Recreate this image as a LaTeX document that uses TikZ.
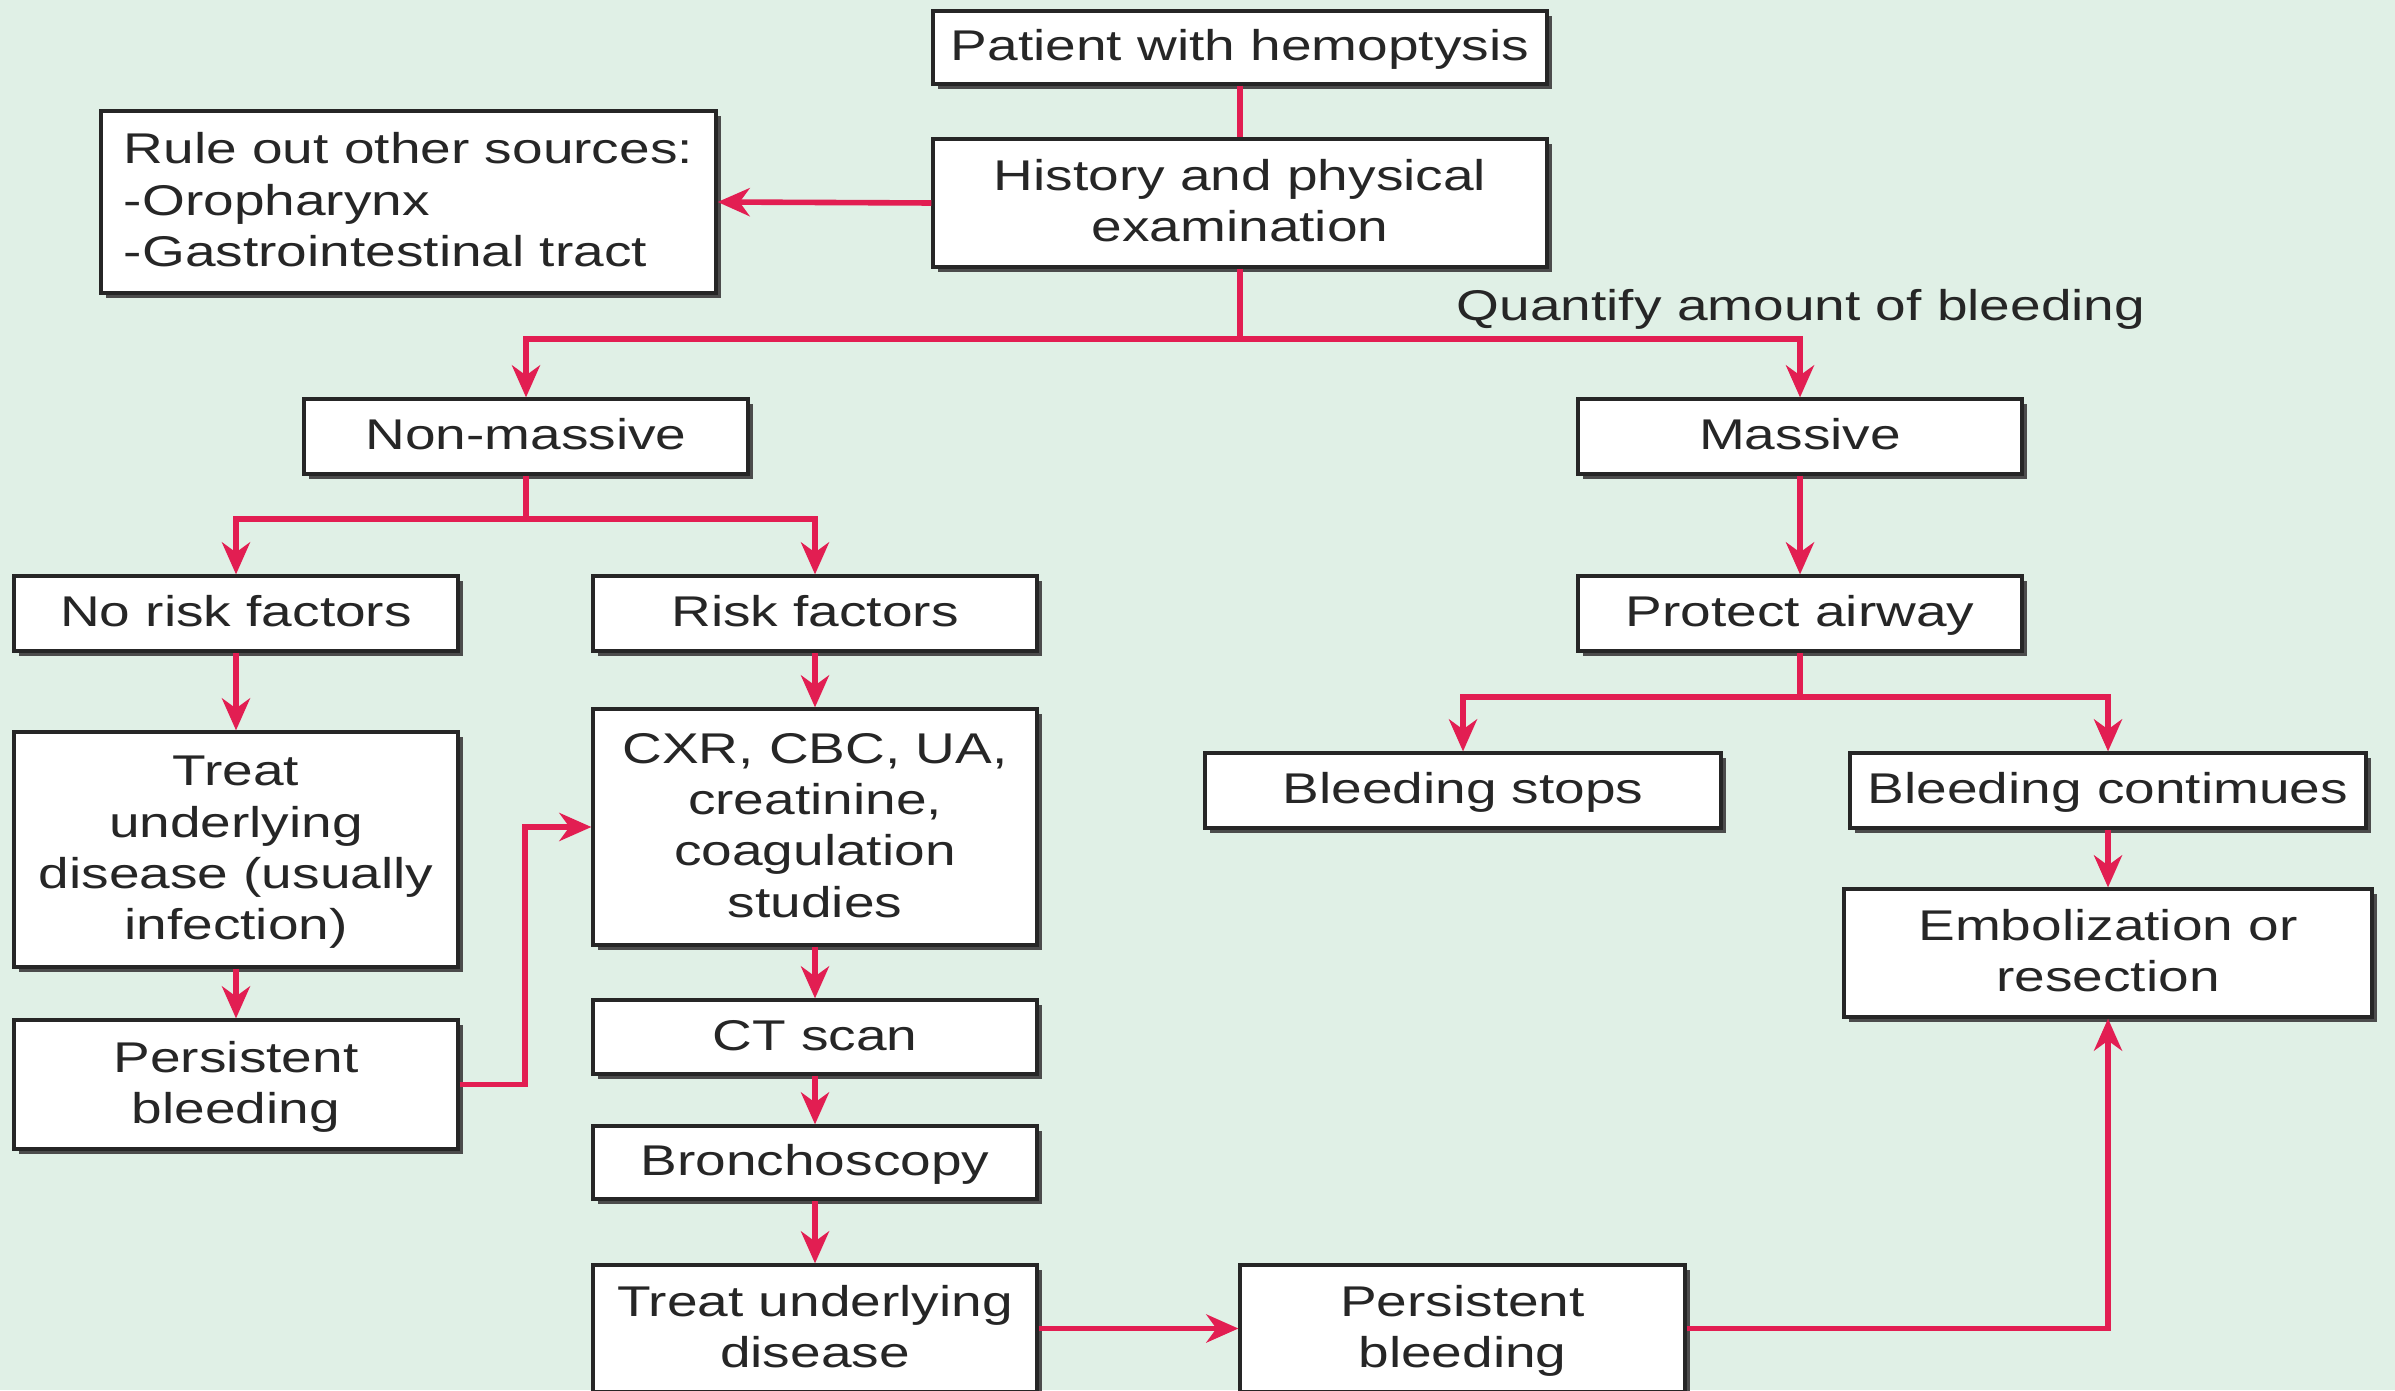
\documentclass[tikz,border=0pt]{standalone}
\usepackage{fontspec}
\usepackage{graphicx}
\setmainfont{Liberation Sans}
\usetikzlibrary{arrows.meta,shadows}
\definecolor{bgcol}{RGB}{224,240,230}
\definecolor{linkcol}{RGB}{226,30,82}
\newcommand{\bt}[2][c]{\raisebox{-0.75pt}[\height][\depth]{\scalebox{1.28}[1]{\begin{tabular}{@{}#1@{}}#2\end{tabular}}}}
\begin{document}
\begin{tikzpicture}[x=0.25pt,y=-0.25pt,
  box/.style={draw=black!85, line width=0.8pt, fill=white, inner sep=0pt, align=center,
    text=black!85, font=\fontsize{10.75}{12.85}\selectfont,
    drop shadow={shadow xshift=1.3pt, shadow yshift=-1.3pt, fill=black!70, opacity=1}},
  link/.style={draw=linkcol, line width=1.4pt},
  arr/.style={link, -{Stealth[length=8pt,width=7pt,inset=2.5pt]}},
  lbl/.style={inner sep=0pt, text=black!85, font=\fontsize{10.75}{12.85}\selectfont}]
\useasboundingbox (0,0) rectangle (2395,1390);
\fill[bgcol] (0,0) rectangle (2395,1390);
\begin{scope}
\clip (0,0) rectangle (2395,1390);
% nodes
\node[box, minimum width=153.5pt, minimum height=18.25pt] (pat) at (1240,47.5) {\bt{Patient with hemoptysis}};
\node[box, minimum width=153.5pt, minimum height=32pt] (hist) at (1240,203) {\bt{History and physical\\examination}};
\node[box, minimum width=153.75pt, minimum height=45.5pt] (rule) at (408.5,202) {\bt[l]{Rule out other sources:\\-Oropharynx\\-Gastrointestinal tract}};
\node[lbl] (q) at (1801,307) {\bt{Quantify amount of bleeding}};
\node[box, minimum width=111pt, minimum height=18.75pt] (nm) at (526,436.5) {\bt{Non-massive}};
\node[box, minimum width=111pt, minimum height=18.75pt] (mas) at (1800,436.5) {\bt{Massive}};
\node[box, minimum width=111pt, minimum height=18.75pt] (nrf) at (236,613.5) {\bt{No risk factors}};
\node[box, minimum width=111pt, minimum height=18.75pt] (rf) at (815,613.5) {\bt{Risk factors}};
\node[box, minimum width=111pt, minimum height=18.75pt] (pa) at (1800,613.5) {\bt{Protect airway}};
\node[box, minimum width=129pt, minimum height=18.75pt] (bs) at (1463,790.5) {\bt{Bleeding stops}};
\node[box, minimum width=129pt, minimum height=18.75pt] (bc) at (2108,790.5) {\bt{Bleeding contimues}};
\node[box, minimum width=132pt, minimum height=32pt] (emb) at (2108,953) {\bt{Embolization or\\resection}};
\node[box, minimum width=111pt, minimum height=58.75pt] (tud) at (236,849.5) {\bt{Treat\\underlying\\disease (usually\\infection)}};
\node[box, minimum width=111pt, minimum height=32.25pt] (pb1) at (236,1084.5) {\bt{Persistent\\bleeding}};
\node[box, minimum width=111pt, minimum height=59pt] (cxr) at (815,827) {\bt{CXR, CBC, UA,\\creatinine,\\coagulation\\studies}};
\node[box, minimum width=111pt, minimum height=18.5pt] (ct) at (815,1037) {\bt{CT scan}};
\node[box, minimum width=111pt, minimum height=18.25pt] (bro) at (815,1162.5) {\bt{Bronchoscopy}};
\node[box, minimum width=111pt, minimum height=31.75pt] (tud2) at (815,1328.5) {\bt{Treat underlying\\disease}};
\node[box, minimum width=111.25pt, minimum height=31.75pt] (pb2) at (1462.5,1328.5) {\bt{Persistent\\bleeding}};
% junctions
\coordinate (j1) at (1240,339);
\coordinate (j2) at (526,519);
\coordinate (j3) at (1800,697);
\coordinate (jx) at (525,0);
% connectors
\draw[link] (pat.south) -- (hist.north);
\draw[arr] (hist.west) -- (rule.east);
\draw[link] (hist.south) -- (j1);
\draw[arr] (j1) -| (nm.north);
\draw[arr] (j1) -| (mas.north);
\draw[link] (nm.south) -- (j2);
\draw[arr] (j2) -| (nrf.north);
\draw[arr] (j2) -| (rf.north);
\draw[arr] (mas) -- (pa);
\draw[link] (pa.south) -- (j3);
\draw[arr] (j3) -| (bs.north);
\draw[arr] (j3) -| (bc.north);
\draw[arr] (bc) -- (emb);
\draw[arr] (nrf) -- (tud);
\draw[arr] (tud) -- (pb1);
\draw[arr] (pb1.east) -- (pb1.east -| jx) -- (jx |- cxr.west) -- (cxr.west);
\draw[arr] (rf) -- (cxr);
\draw[arr] (cxr) -- (ct);
\draw[arr] (ct) -- (bro);
\draw[arr] (bro) -- (tud2);
\draw[arr] (tud2) -- (pb2);
\draw[arr] (pb2.east) -| (emb.south);
\end{scope}
\end{tikzpicture}
\end{document}
